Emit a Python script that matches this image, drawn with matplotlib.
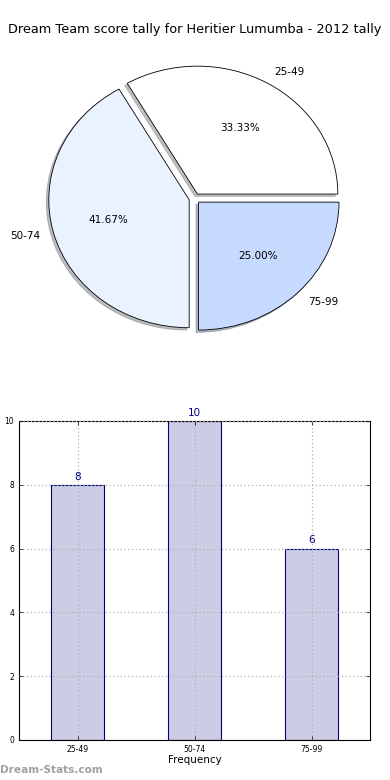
import matplotlib
matplotlib.use("Agg")
import matplotlib.pyplot as plt

# data
ranges = ["25-49", "50-74", "75-99"]
counts = [8, 10, 6]
pie_colors = ["#ffffff", "#eaf1ff", "#c6d9ff"]

fig = plt.figure(figsize=(3.9, 7.8), dpi=100)

# pie chart
ax1 = fig.add_axes([0.049, 0.5405, 0.9, 0.41])
ax1.pie(counts, labels=ranges, colors=pie_colors, explode=[0.04] * len(counts),
        autopct="%1.2f%%", shadow={"ox": -0.013, "oy": -0.013, "shade": 0.5},
        startangle=0,
        wedgeprops={"edgecolor": "black", "linewidth": 0.6},
        textprops={"fontsize": 7.5})
ax1.set_aspect("auto")
ax1.set_xlim(-1.25, 1.25)
ax1.set_ylim(-1.25, 1.25)
fig.text(0.5, 0.962, "Dream Team score tally for Heritier Lumumba - 2012 tally",
         ha="center", va="center", fontsize=9.3)

# bar chart
ax2 = fig.add_axes([0.049, 0.0513, 0.9, 0.409])
x = range(len(ranges))
ax2.bar(x, counts, width=0.45, color="navy", alpha=0.2)
ax2.bar(x, counts, width=0.45, facecolor="none", edgecolor="navy", linewidth=0.8)
for i, c in zip(x, counts):
    ax2.text(i, c + 0.1, str(c), ha="center", va="bottom", color="navy", fontsize=7.5)
ax2.set_xlim(-0.5, 2.5)
ax2.set_ylim(0, 10)
ax2.set_xticks(list(x))
ax2.set_xticklabels(ranges)
ax2.tick_params(labelsize=5.5, direction="in", top=True, right=True, length=3, width=0.5)
ax2.grid(True, linestyle=(0, (1, 2)), color="#b0b0b0", linewidth=0.9)
ax2.set_axisbelow(False)
ax2.set_xlabel("Frequency", fontsize=7.5, labelpad=1)
ax2.set_ylabel("Score Instances", fontsize=7.5, labelpad=3)
for s in ax2.spines.values():
    s.set_linewidth(0.8)

fig.text(0.0, 0.013, "Dream-Stats.com", fontsize=7.6, fontweight="bold",
         color="#a0a0a0", ha="left", va="center")

fig.savefig("out.png", dpi=100)
